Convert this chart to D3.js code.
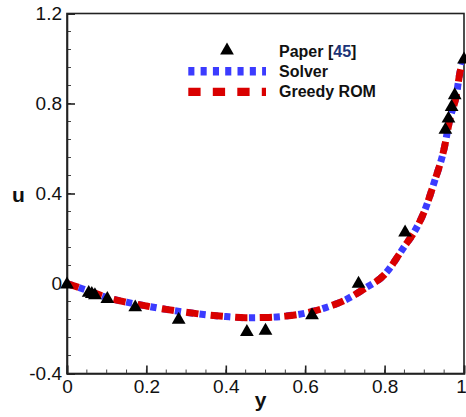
<!DOCTYPE html>
<html>
<head>
<meta charset="utf-8">
<script src="https://cdn.jsdelivr.net/npm/d3@7"></script>
<style>
    body { margin: 0; background: #fff; }
    svg { display: block; }
</style>
</head>
<body>
<svg id="chart" width="466" height="417"></svg>
<script>
"use strict";

/* global d3 */

// reference data (triangles)
var paperY = [0.0000, 0.0547, 0.0625, 0.0703, 0.1016, 0.1719, 0.2813, 0.4531, 0.5000, 0.6172, 0.7344, 0.8516, 0.9531, 0.9609, 0.9688, 0.9766, 1.0000];
var paperU = [0.00000, -0.03717, -0.04192, -0.04775, -0.06434, -0.10150, -0.15662, -0.21090, -0.20581, -0.13641, 0.00332, 0.23151, 0.68717, 0.73722, 0.78871, 0.84123, 1.00000];

// solver and greedy ROM curves
var curveY = [0, 0.05, 0.1, 0.15, 0.2, 0.25, 0.3, 0.35, 0.4, 0.45, 0.5, 0.55, 0.6, 0.65, 0.7, 0.75, 0.8, 0.85, 0.875, 0.9, 0.925, 0.95, 0.965, 0.98, 0.99, 1];
var solverU = [0, -0.03, -0.062, -0.083, -0.1, -0.115, -0.128, -0.139, -0.147, -0.152, -0.151, -0.145, -0.132, -0.108, -0.074, -0.022, 0.04, 0.165, 0.23, 0.32, 0.45, 0.6, 0.735, 0.83, 0.94, 1];
var romU = [0, -0.03, -0.062, -0.083, -0.1, -0.115, -0.128, -0.139, -0.147, -0.152, -0.151, -0.145, -0.132, -0.108, -0.074, -0.022, 0.04, 0.165, 0.23, 0.32, 0.45, 0.6, 0.735, 0.83, 0.94, 1];

var xTicks = [0, 0.2, 0.4, 0.6, 0.8, 1];
var xTickLabels = ["0", "0.2", "0.4", "0.6", "0.8", "1"];
var yTicks = [-0.4, 0, 0.4, 0.8, 1.2];
var yTickLabels = ["-0.4", "0", "0.4", "0.8", "1.2"];

var legendLabels = ["Paper [45]", "Solver", "Greedy ROM"];


(function() {

    var svg = d3.select("#chart");
    var font = "'Liberation Sans', Arial, sans-serif";

    var area = { left: 67, right: 464, top: 13.5, bottom: 373.5 };

    var xScale = d3.scaleLinear().domain([0, 1]).range([area.left, area.right]);
    var yScale = d3.scaleLinear().domain([-0.4, 1.2]).range([area.bottom, area.top]);

    // frame
    svg.append("rect")
        .attr("x", area.left).attr("y", area.top)
        .attr("width", area.right - area.left).attr("height", area.bottom - area.top)
        .attr("fill", "none").attr("stroke", "#222").attr("stroke-width", 1.6);

    // ticks point inward, minor ticks in between
    var xMinor = d3.range(0, 1.0001, 0.05);
    var yMinor = d3.range(-0.4, 1.2001, 0.08);

    var xAxis = d3.axisBottom(xScale)
        .tickValues(xTicks)
        .tickSize(-8)
        .tickPadding(6)
        .tickFormat(function(d, i) { return xTickLabels[i]; });

    var yAxis = d3.axisLeft(yScale)
        .tickValues(yTicks)
        .tickSize(-8)
        .tickPadding(5)
        .tickFormat(function(d, i) { return yTickLabels[i]; });

    var gx = svg.append("g").attr("transform", "translate(0," + area.bottom + ")");
    gx.selectAll(".minor").data(xMinor).enter().append("line")
        .attr("x1", xScale).attr("x2", xScale)
        .attr("y1", 0).attr("y2", -4)
        .attr("stroke", "#444").attr("stroke-width", 1);
    gx.call(xAxis);

    var gy = svg.append("g").attr("transform", "translate(" + area.left + ",0)");
    gy.selectAll(".minor").data(yMinor).enter().append("line")
        .attr("y1", yScale).attr("y2", yScale)
        .attr("x1", 0).attr("x2", 4)
        .attr("stroke", "#444").attr("stroke-width", 1);
    gy.call(yAxis);

    [gx, gy].forEach(function(g) {
        g.select(".domain").attr("stroke", "#222").attr("stroke-width", 1.6);
        g.selectAll(".tick line").attr("stroke", "#222").attr("stroke-width", 1.6);
        g.selectAll(".tick text")
            .attr("fill", "#111")
            .attr("font-family", font)
            .attr("font-size", "19px");
    });
    // last x label sits on the window edge; pull it in a little
    gx.selectAll(".tick text").filter(function(d) { return d === 1; }).attr("dx", "-3");

    // axis titles
    svg.append("text").text("u")
        .attr("x", 18.5).attr("y", 201.5)
        .attr("text-anchor", "middle")
        .attr("font-family", font).attr("font-weight", "bold").attr("font-size", "21px")
        .attr("fill", "#111");

    svg.append("text").text("y")
        .attr("x", 260.5).attr("y", 407)
        .attr("text-anchor", "middle")
        .attr("font-family", font).attr("font-weight", "bold").attr("font-size", "21px")
        .attr("fill", "#111");

    var line = d3.line()
        .x(function(d) { return xScale(d[0]); })
        .y(function(d) { return yScale(d[1]); })
        .curve(d3.curveMonotoneX);

    var clip = svg.append("clipPath").attr("id", "plotClip");
    clip.append("rect")
        .attr("x", area.left).attr("y", area.top)
        .attr("width", area.right - area.left).attr("height", area.bottom - area.top);

    var plot = svg.append("g").attr("clip-path", "url(#plotClip)");

    plot.append("path")
        .datum(d3.zip(curveY, solverU))
        .attr("d", line)
        .attr("fill", "none")
        .attr("stroke", "#3b3bff")
        .attr("stroke-width", 7)
        .attr("stroke-dasharray", "6.2,6.2");

    plot.append("path")
        .datum(d3.zip(curveY, romU))
        .attr("d", line)
        .attr("fill", "none")
        .attr("stroke", "#d90000")
        .attr("stroke-width", 7)
        .attr("stroke-dasharray", "12.3,12.3");

    var triangle = d3.symbol().type(d3.symbolTriangle).size(82);

    svg.append("g").selectAll("path")
        .data(d3.zip(paperY, paperU))
        .enter()
        .append("path")
          .attr("d", triangle)
          .attr("fill", "#000")
          .attr("transform", function(d) {
              return "translate(" + xScale(d[0]) + "," + (yScale(d[1]) + 1) + ")";
          });

    // legend
    var legend = svg.append("g");
    legend.append("path")
        .attr("d", triangle)
        .attr("fill", "#000")
        .attr("transform", "translate(227,50.5)");

    legend.append("line")
        .attr("x1", 188.3).attr("x2", 266).attr("y1", 71.2).attr("y2", 71.2)
        .attr("stroke", "#3b3bff").attr("stroke-width", 8.5)
        .attr("stroke-dasharray", "6.1,6.2");

    legend.append("line")
        .attr("x1", 188.3).attr("x2", 266).attr("y1", 91.8).attr("y2", 91.8)
        .attr("stroke", "#d90000").attr("stroke-width", 8.3)
        .attr("stroke-dasharray", "12.3,12.2");

    var labels = legend.selectAll("text")
        .data(legendLabels)
        .enter()
        .append("text")
          .attr("x", 279)
          .attr("y", function(d, i) { return 56.7 + i * 20; })
          .attr("font-family", font)
          .attr("font-weight", "bold")
          .attr("font-size", "16px")
          .attr("fill", "#111");

    labels.each(function(d) {
        var t = d3.select(this);
        var m = d.match(/^(.*\[)(\d+)(\].*)$/);
        if (m) {
            t.append("tspan").text(m[1]);
            t.append("tspan").text(m[2]).attr("fill", "#1c3478");
            t.append("tspan").text(m[3]);
        } else {
            t.text(d);
        }
    });

})();
</script>
</body>
</html>
